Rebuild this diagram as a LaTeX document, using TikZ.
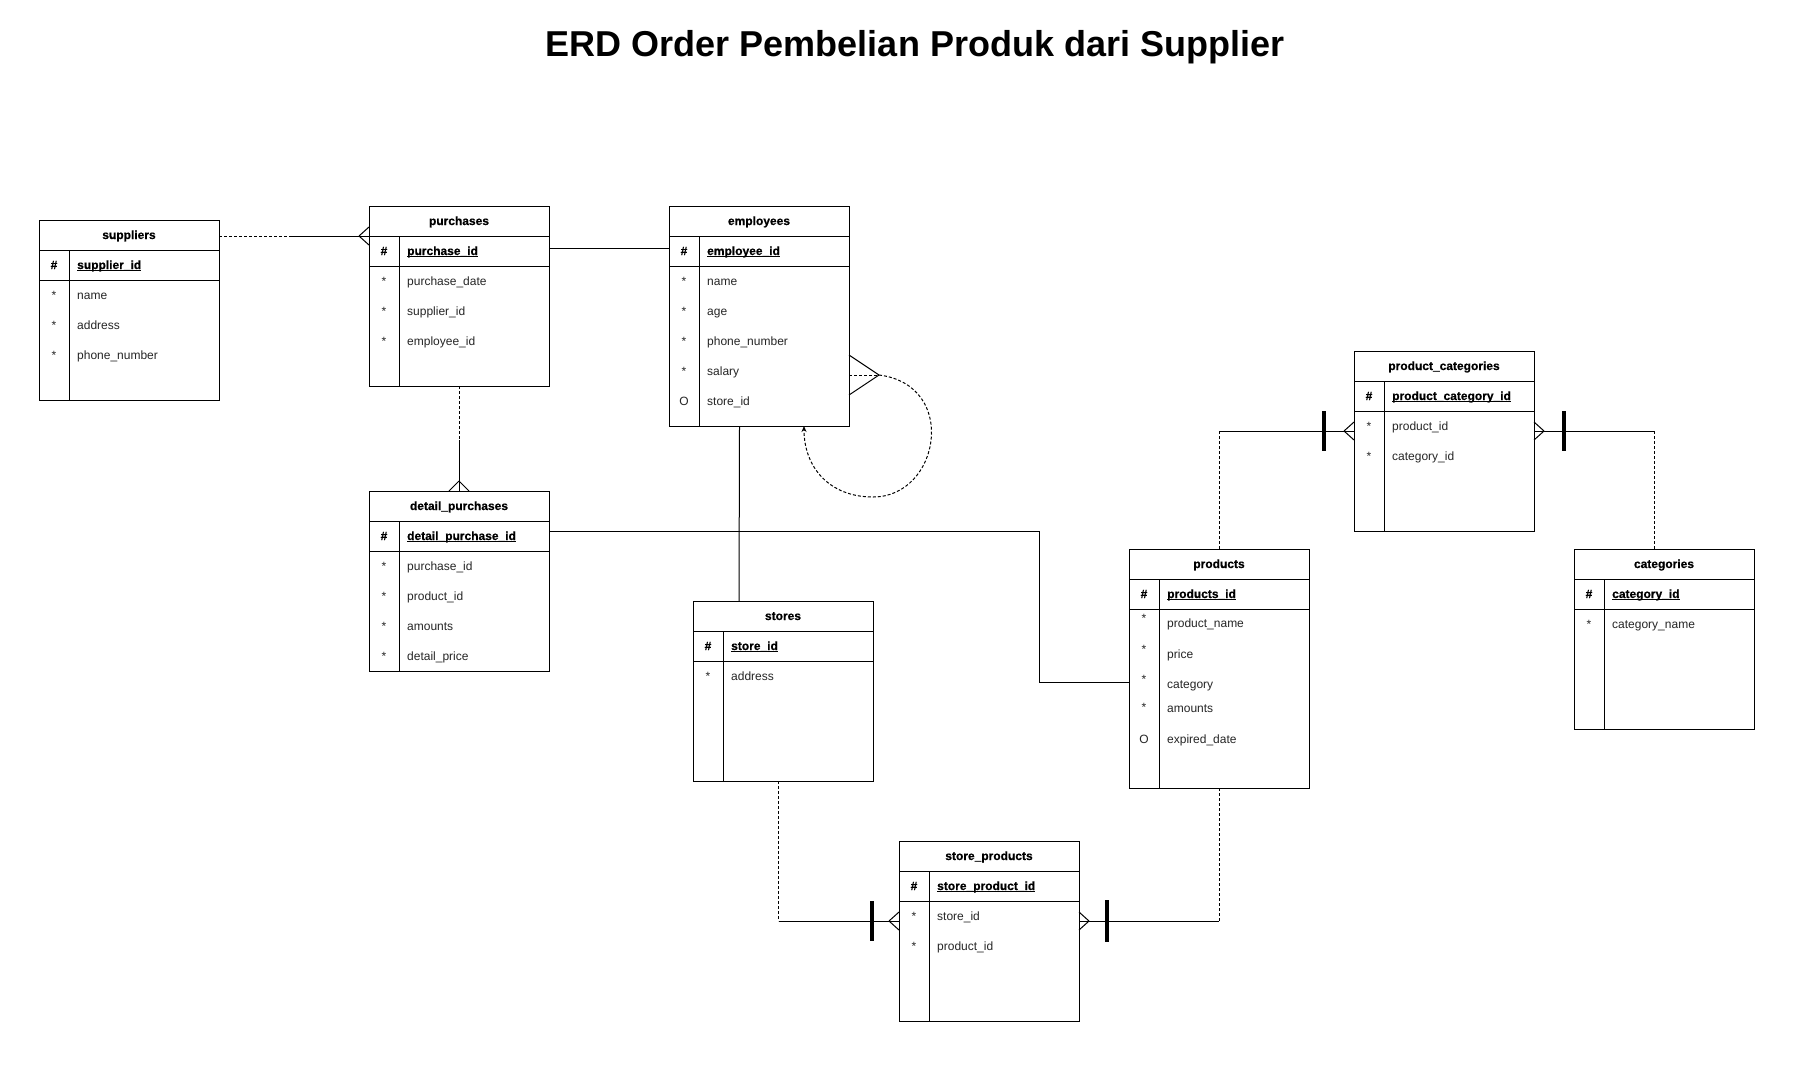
\documentclass[tikz,border=0pt]{standalone}
\usepackage{fontspec}
\setmainfont{Liberation Sans}
\newfontfamily\hdrfont{Liberation Sans}[FakeBold=0.6]
\usetikzlibrary{arrows.meta,calc}
\newcommand{\fs}{\fontsize{12}{14}\selectfont}
\newcommand{\pkul}[1]{\setbox0\hbox{#1}\rlap{\rule[-1.8pt]{\wd0}{0.9pt}}\box0}
\tikzset{
  tbl/.style={draw, line width=1pt, minimum width=180pt, inner sep=0pt, outer sep=0pt, rectangle},
  hdr/.style={font=\hdrfont\bfseries\fs, anchor=base, inner sep=0pt},
  symb/.style={font=\fs, anchor=base, inner sep=0pt, text=black!85},
  attr/.style={font=\fs, anchor=base west, inner sep=0pt, text=black!85},
  pkattr/.style={font=\hdrfont\bfseries\fs, anchor=base west, inner sep=0pt},
  sepline/.style={line width=1pt},
  rel/.style={line width=1pt},
  reld/.style={line width=1pt, dash pattern=on 3pt off 2pt},
  onebar/.style={line width=3.5pt},
}
% table: name, x, y, height, title, pk
\newcommand{\erdtable}[6]{%
  \node[tbl, minimum height=#4pt, anchor=north west] (#1) at (#2,#3) {};
  \node[hdr] (#1-title) at ([xshift=90pt,yshift=-19pt]#1.north west) {#5};
  \draw[sepline] ([yshift=-30pt]#1.north west) -- ([yshift=-30pt]#1.north east);
  \draw[sepline] ([yshift=-60pt]#1.north west) -- ([yshift=-60pt]#1.north east);
  \draw[sepline] ([xshift=30pt,yshift=-30pt]#1.north west) -- ([xshift=30pt]#1.south west);
  \node[hdr] (#1-pks) at ([xshift=15pt,yshift=-49pt]#1.north west) {\#};
  \node[pkattr] (#1-pk) at ([xshift=38pt,yshift=-49pt]#1.north west) {\pkul{#6}};
}
% row: table, id, symbol baseline, symbol, text baseline, text
\newcommand{\erdrow}[6]{%
  \node[symb] (#1-#2s) at ([xshift=15pt,yshift=-#3pt]#1.north west) {#4};
  \node[attr] (#1-#2) at ([xshift=38pt,yshift=-#5pt]#1.north west) {#6};
}
\newcommand{\crowW}[1]{\draw[rel] ([xshift=-10pt]#1) -- ([yshift=9pt]#1) ([xshift=-10pt]#1) -- ([yshift=-9pt]#1);}
\newcommand{\crowE}[1]{\draw[rel] ([xshift=10pt]#1) -- ([yshift=9pt]#1) ([xshift=10pt]#1) -- ([yshift=-9pt]#1);}
\newcommand{\crowN}[1]{\draw[rel] ([yshift=10pt]#1) -- ([xshift=10pt]#1) ([yshift=10pt]#1) -- ([xshift=-10pt]#1);}
\begin{document}
\begin{tikzpicture}[x=1pt,y=-1pt]
\fill[white] (0,0) rectangle (1795,1072);
\useasboundingbox (0,0) rectangle (1795,1072);

\node[font=\fontsize{36}{40}\selectfont\bfseries, anchor=base, inner sep=0pt] (title) at (915,56) {ERD Order Pembelian Produk dari Supplier};

% suppliers
\erdtable{suppliers}{39}{220}{180}{suppliers}{supplier\_id}
\erdrow{suppliers}{r1}{79}{*}{79}{name}
\erdrow{suppliers}{r2}{109}{*}{109}{address}
\erdrow{suppliers}{r3}{139}{*}{139}{phone\_number}

% purchases
\erdtable{purchases}{369}{206}{180}{purchases}{purchase\_id}
\erdrow{purchases}{r1}{79}{*}{79}{purchase\_date}
\erdrow{purchases}{r2}{109}{*}{109}{supplier\_id}
\erdrow{purchases}{r3}{139}{*}{139}{employee\_id}

% employees
\erdtable{employees}{669}{206}{220}{employees}{employee\_id}
\erdrow{employees}{r1}{79}{*}{79}{name}
\erdrow{employees}{r2}{109}{*}{109}{age}
\erdrow{employees}{r3}{139}{*}{139}{phone\_number}
\erdrow{employees}{r4}{169}{*}{169}{salary}
\erdrow{employees}{r5}{199}{O}{199}{store\_id}

% detail purchases
\erdtable{detail}{369}{491}{180}{detail\_purchases}{detail\_purchase\_id}
\erdrow{detail}{r1}{79}{*}{79}{purchase\_id}
\erdrow{detail}{r2}{109}{*}{109}{product\_id}
\erdrow{detail}{r3}{139}{*}{139}{amounts}
\erdrow{detail}{r4}{169}{*}{169}{detail\_price}

% stores
\erdtable{stores}{693}{601}{180}{stores}{store\_id}
\erdrow{stores}{r1}{79}{*}{79}{address}

% products
\erdtable{products}{1129}{549}{239}{products}{products\_id}
\erdrow{products}{r1}{73}{*}{78}{product\_name}
\erdrow{products}{r2}{104}{*}{109}{price}
\erdrow{products}{r3}{134}{*}{139}{category}
\erdrow{products}{r4}{162}{*}{163}{amounts}
\erdrow{products}{r5}{194}{O}{194}{expired\_date}

% product categories
\erdtable{pcat}{1354}{351}{180}{product\_categories}{product\_category\_id}
\erdrow{pcat}{r1}{79}{*}{79}{product\_id}
\erdrow{pcat}{r2}{109}{*}{109}{category\_id}

% categories
\erdtable{categories}{1574}{549}{180}{categories}{category\_id}
\erdrow{categories}{r1}{79}{*}{79}{category\_name}

% store products
\erdtable{sprod}{899}{841}{180}{store\_products}{store\_product\_id}
\erdrow{sprod}{r1}{79}{*}{79}{store\_id}
\erdrow{sprod}{r2}{109}{*}{109}{product\_id}

% ---- connectors ----
% suppliers - purchases
\coordinate (sp1) at ([yshift=-16pt]suppliers.north east);
\coordinate (sp2) at ([xshift=71pt]sp1);
\coordinate (sp3) at ([yshift=-30pt]purchases.north west);
\draw[reld] (sp1) -- (sp2);
\draw[rel] (sp2) -- (sp3);
\crowW{sp3}

% purchases - employees
\draw[rel] ([yshift=-42pt]purchases.north east) -- ([yshift=-42pt]employees.north west);

% purchases - detail purchases
\coordinate (pd1) at ([yshift=-54pt]purchases.south);
\draw[reld] (purchases.south) -- (pd1);
\draw[rel] (pd1) -- (detail.north);
\crowN{detail.north}

% detail purchases - products
\draw[rel] ([yshift=-40.5pt]detail.north east) -- ++(490,0) |- ([yshift=-133.5pt]products.north west);

% employees - stores
\draw[rel] ([xshift=70.5pt]employees.south west) -- ([xshift=46pt]stores.north west);

% employees self relation
\coordinate (es) at ([yshift=-169pt]employees.north east);
\coordinate (et) at ([xshift=30pt]es);
\coordinate (eb) at ([xshift=204pt,yshift=-71pt]employees.south west);
\draw[rel] (et) -- ([yshift=20pt]es) (et) -- ([yshift=-20pt]es);
\draw[reld] (es) -- (et);
\draw[reld, -{Stealth[length=6pt,width=5pt]}] (et) .. controls +(80,10) and +(67,0) .. (eb) .. controls +(-43,0) and +(0,42) .. ([xshift=135pt]employees.south west);

% products - product categories
\coordinate (pcw) at ([yshift=-80pt]pcat.north west);
\coordinate (k2) at (products.north |- pcw);
\draw[reld] (products.north) -- (k2);
\draw[rel] (k2) -- (pcw);
\draw[onebar] ([xshift=-30pt,yshift=20pt]pcw) -- ([xshift=-30pt,yshift=-20pt]pcw);
\crowW{pcw}

% product categories - categories
\coordinate (pce) at ([yshift=-80pt]pcat.north east);
\coordinate (k3) at ([xshift=80pt]categories.north west);
\coordinate (k4) at (k3 |- pce);
\draw[rel] (pce) -- (k4);
\draw[reld] (k4) -- (k3);
\draw[onebar] ([xshift=30pt,yshift=20pt]pce) -- ([xshift=30pt,yshift=-20pt]pce);
\crowE{pce}

% stores - store products
\coordinate (ss1) at ([xshift=85.5pt]stores.south west);
\coordinate (spw) at ([yshift=-80pt]sprod.north west);
\coordinate (k5) at (ss1 |- spw);
\draw[reld] (ss1) -- (k5);
\draw[rel] (k5) -- (spw);
\draw[onebar] ([xshift=-27pt,yshift=20pt]spw) -- ([xshift=-27pt,yshift=-20pt]spw);
\crowW{spw}

% store products - products
\coordinate (spe) at ([yshift=-80pt]sprod.north east);
\coordinate (k6) at (products.south |- spe);
\draw[rel] (spe) -- (k6);
\draw[reld] (k6) -- (products.south);
\draw[onebar] ([xshift=28pt,yshift=21pt]spe) -- ([xshift=28pt,yshift=-21pt]spe);
\crowE{spe}
\end{tikzpicture}
\end{document}
